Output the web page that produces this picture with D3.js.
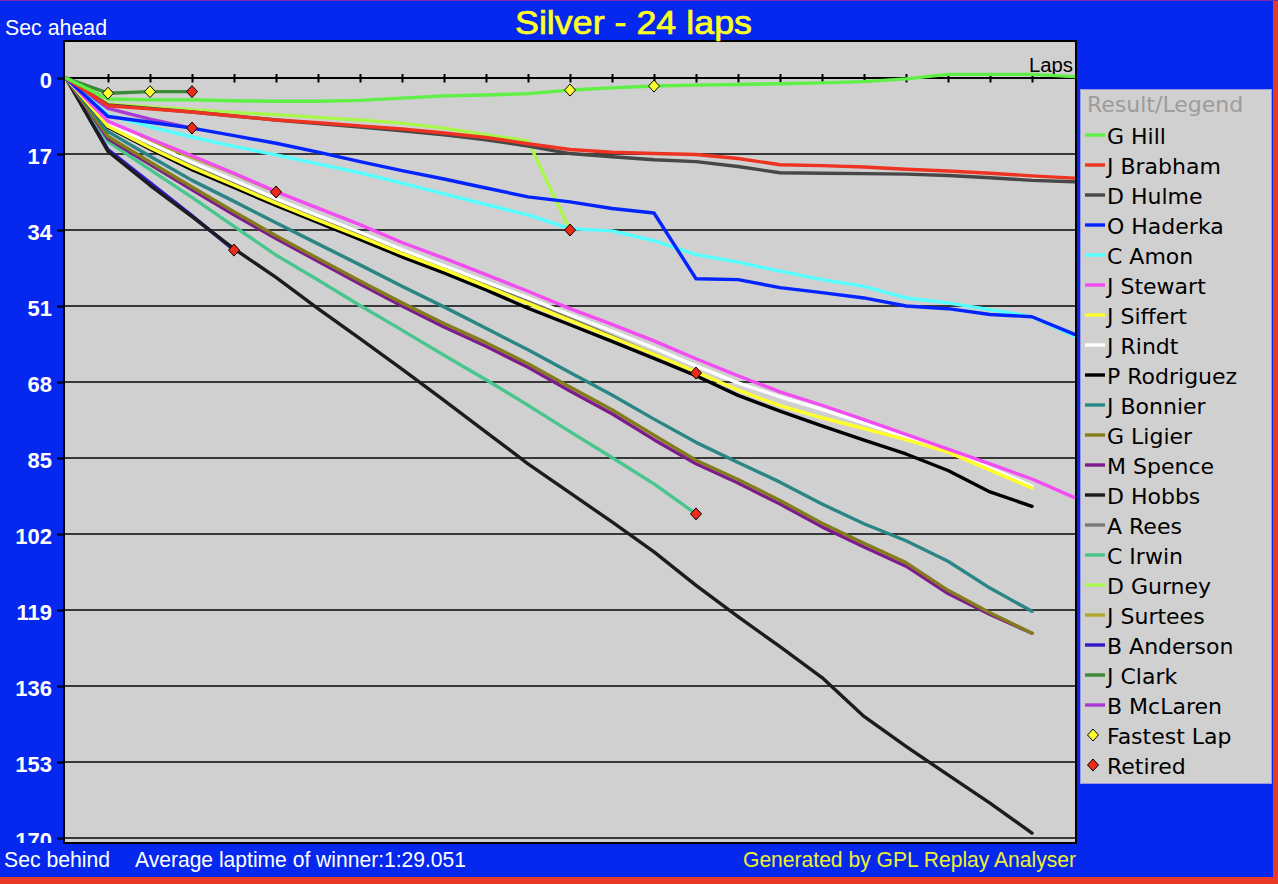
<!DOCTYPE html>
<html><head><meta charset="utf-8">
<script src="https://cdn.jsdelivr.net/npm/d3@7"></script>
<style>
html,body{margin:0;padding:0;background:#0628ee;overflow:hidden;}
svg{display:block;}
</style></head><body>
<svg id="chart" width="1278" height="884"></svg>
<script>
// ---------- data ----------
const lapDomain = [0, 24];
const lapTicks = d3.range(1, 24);
const yTicks = [0, 17, 34, 51, 68, 85, 102, 119, 136, 153, 170];

const drivers = ["G Hill","J Brabham","D Hulme","O Haderka","C Amon","J Stewart","J Siffert","J Rindt",
  "P Rodriguez","J Bonnier","G Ligier","M Spence","D Hobbs","A Rees","C Irwin","D Gurney","J Surtees",
  "B Anderson","J Clark","B McLaren"];

// seconds behind (positive = behind), one value per lap starting at lap 0
const gHill      = [0,4.7,4.9,4.9,5.1,5.2,5.2,5.0,4.5,4.0,3.8,3.5,2.7,2.2,1.8,1.6,1.45,1.3,1.1,0.8,0.2,-0.8,-0.8,-0.8,-0.3];
const jBrabham   = [0,6.2,6.9,7.6,8.5,9.4,10.0,10.7,11.4,12.3,13.3,14.7,16.0,16.6,16.9,17.1,18.0,19.4,19.6,19.9,20.4,20.8,21.3,21.9,22.4];
const dHulme     = [0,6.0,6.8,7.6,8.5,9.4,10.2,11.0,11.8,12.7,13.8,15.2,16.9,17.6,18.3,18.7,19.8,21.2,21.3,21.4,21.5,21.8,22.3,22.9,23.2];
const oHaderka   = [0,8.6,9.9,11.2,12.9,14.6,16.6,18.7,20.7,22.6,24.6,26.6,27.7,29.2,30.2,44.9,45.1,46.9,48.0,49.2,51.0,51.6,52.9,53.4,57.3];
const cAmon      = [0,8.3,10.9,13.2,15.3,17.2,19.2,21.2,23.5,25.9,28.3,30.6,33.7,34.2,36.4,39.5,41.2,43.2,45.1,46.6,49.2,50.3,51.8,53.4,57.7];
const jStewart   = [0,9.7,13.6,17.4,21.3,25.4,29.1,32.8,36.8,40.3,44.0,47.7,51.6,55.1,58.8,62.8,66.6,70.2,73.2,76.4,79.7,83.0,86.3,89.7,93.8];
const jSiffert   = [0,10.8,15.6,20.0,24.0,28.0,31.8,35.5,39.3,42.8,46.6,50.4,54.2,58.0,61.8,65.7,69.8,73.3,76.0,78.4,80.9,83.7,87.7,91.7];
const jRindt     = [0,10.2,14.6,18.9,22.9,27.0,30.8,34.5,38.4,42.0,45.6,49.2,53.0,56.6,60.4,64.4,68.2,71.3,74.1,77.2,80.3,83.3,87.2,91.3];
const pRodriguez = [0,11.0,15.9,20.5,24.5,28.5,32.3,36.1,40.0,43.6,47.4,51.5,55.2,58.9,62.7,66.6,71.0,74.5,77.8,81.0,84.1,87.8,92.6,95.8];
const jBonnier   = [0,12.0,17.5,22.9,27.6,32.4,37.1,41.8,46.6,51.2,56.0,60.8,65.9,70.9,76.3,81.5,86.0,90.4,95.3,99.7,103.5,108.1,114.1,119.3];
const gLigier    = [0,13.1,18.8,24.4,29.9,35.3,40.4,45.4,50.3,54.9,59.2,63.9,69.1,74.2,79.9,85.5,89.8,94.5,99.6,104.1,108.4,114.6,119.6,124.2];
const mSpence    = [0,13.6,19.3,25.0,30.6,35.9,41.0,46.1,51.0,55.7,60.0,64.7,70.0,75.1,80.9,86.3,90.6,95.3,100.4,104.9,109.2,115.3,120.0,124.2];
const dHobbs     = [0,16.4,24.0,31.0,38.2,44.6,51.6,58.3,65.1,72.1,79.2,86.3,92.8,99.3,106.0,113.5,120.5,127.2,134.1,142.8,149.5,155.9,162.2,168.9];
const aRees      = [0,10.3,14.9,19.4,23.4,27.4,31.2,35.0,38.9,42.5,46.2,50.0,53.8,57.8,61.8,66.0];
const cIrwin     = [0,14.2,20.5,26.7,33.2,39.6,45.2,50.9,56.4,62.0,67.5,73.2,79.1,84.9,90.8,97.5];
const dGurney    = [0,5.8,6.5,7.1,7.7,8.2,8.8,9.4,10.1,11.2,12.7,14.1,34.0];
const jSurtees   = [0,10.0,14.2,17.7,21.4,25.5];
const bAnderson  = [0,16.0,23.4,30.8,38.5];
const jClark     = [0,3.4,3.05,3.05];
const bMcLaren   = [0,6.8,9.2,11.2];

const seriesValues = [gHill,jBrabham,dHulme,oHaderka,cAmon,jStewart,jSiffert,jRindt,pRodriguez,jBonnier,
  gLigier,mSpence,dHobbs,aRees,cIrwin,dGurney,jSurtees,bAnderson,jClark,bMcLaren];

const fastestLaps = [{driver:"J Clark",lap:1},{driver:"J Clark",lap:2},{driver:"G Hill",lap:12},{driver:"G Hill",lap:14}];
const retiredDrivers = ["J Clark","B McLaren","B Anderson","J Surtees","D Gurney","A Rees","C Irwin"];

const titleText = "Silver - 24 laps";

// ---------- styles ----------
const palette = ["#5ef044","#ee3322","#474747","#0424ff","#55ffff","#f24cf2","#ffff2a","#ffffff",
  "#000000","#2a8686","#847c1c","#7c1c8c","#1c1c1c","#7a7a7a","#48c68e","#a8f84c","#b0a82e",
  "#3218c8","#3a8a3a","#a63ad2"];
const BLUE = "#0628ee", RED = "#e83a26", PLOT_BG = "#d0d0d0";
const SANS = "'Liberation Sans', Arial, sans-serif";
const LEG = "'DejaVu Sans', Verdana, sans-serif";

const W = 1278, H = 884;
const plot = {left: 64, right: 1076, top: 41, bottom: 843};
const svg = d3.select("#chart");

svg.append("rect").attr("width", W).attr("height", H).attr("fill", BLUE);
svg.append("rect").attr("x", 1273).attr("y", 0).attr("width", 5).attr("height", H).attr("fill", RED);
svg.append("rect").attr("x", 0).attr("y", 877).attr("width", W).attr("height", 7).attr("fill", RED);
svg.append("rect").attr("x", 0).attr("y", 0).attr("width", W).attr("height", 1).attr("fill", "#7a2aa8");

const x = d3.scaleLinear().domain(lapDomain).range([66, 1074]);
const y = d3.scaleLinear().domain([0, 170]).range([78, 838]);

svg.append("rect").attr("x", plot.left).attr("y", plot.top)
  .attr("width", plot.right - plot.left).attr("height", plot.bottom - plot.top)
  .attr("fill", PLOT_BG).attr("stroke", "#000").attr("stroke-width", 2);

const defs = svg.append("defs");
defs.append("clipPath").attr("id", "plotclip").append("rect")
  .attr("x", plot.left + 1).attr("y", plot.top + 1)
  .attr("width", plot.right - plot.left - 2).attr("height", plot.bottom - plot.top - 2);
defs.append("clipPath").attr("id", "labelclip").append("rect")
  .attr("x", -plot.left).attr("y", 0).attr("width", W).attr("height", plot.bottom);

// grid lines
svg.append("g").selectAll("line").data(yTicks).join("line")
  .attr("x1", plot.left + 1).attr("x2", plot.right - 1)
  .attr("y1", d => y(d)).attr("y2", d => y(d))
  .attr("stroke", d => d === 0 ? "#000" : "#383838").attr("stroke-width", 2);

// y axis
const gy = svg.append("g").attr("transform", `translate(${plot.left},0)`)
  .attr("clip-path", "url(#labelclip)")
  .call(d3.axisLeft(y).tickValues(yTicks).tickSize(7).tickPadding(5).tickFormat(d3.format("d")));
gy.select(".domain").remove();
gy.selectAll(".tick line").attr("stroke", "#000").attr("stroke-width", 2);
gy.selectAll(".tick text").attr("fill", "#fff").attr("font-family", SANS)
  .attr("font-weight", "bold").attr("font-size", 22).attr("dy", "0.45em");

// x ticks on zero line
const gx = svg.append("g").attr("transform", `translate(0,${y(0)})`)
  .call(d3.axisTop(x).tickValues(lapTicks).tickSize(4).tickFormat(""));
gx.select(".domain").remove();
gx.selectAll(".tick line").attr("y1", 4.5).attr("stroke", "#000").attr("stroke-width", 2);

svg.append("text").text("Laps").attr("x", 1029).attr("y", 72)
  .attr("font-family", SANS).attr("font-size", 20).attr("fill", "#000")
  .attr("textLength", 44).attr("lengthAdjust", "spacingAndGlyphs");

// lines
const line = d3.line().x((d, i) => x(i)).y(d => y(d));
const order = d3.range(drivers.length).reverse();
svg.append("g").attr("clip-path", "url(#plotclip)")
  .selectAll("path").data(order).join("path")
  .attr("d", i => line(seriesValues[i]))
  .attr("fill", "none").attr("stroke", i => palette[i])
  .attr("stroke-width", 3.4).attr("stroke-linejoin", "round").attr("stroke-linecap", "round");

// markers
const diamond = (cx, cy) => `M${cx},${cy - 6}L${cx + 5.5},${cy}L${cx},${cy + 6}L${cx - 5.5},${cy}Z`;
const retiredPts = retiredDrivers.map(n => {
  const v = seriesValues[drivers.indexOf(n)];
  return {lap: v.length - 1, val: v[v.length - 1]};
});
const fastPts = fastestLaps.map(f => ({lap: f.lap, val: seriesValues[drivers.indexOf(f.driver)][f.lap]}));
const mk = svg.append("g");
mk.selectAll("path.fast").data(fastPts).join("path").attr("class", "fast")
  .attr("d", d => diamond(x(d.lap), y(d.val)))
  .attr("fill", "#ffff30").attr("stroke", "#000").attr("stroke-width", 1);
mk.selectAll("path.ret").data(retiredPts).join("path").attr("class", "ret")
  .attr("d", d => diamond(x(d.lap), y(d.val)))
  .attr("fill", "#ee2a1a").attr("stroke", "#000").attr("stroke-width", 1);

// title
svg.append("text").text(titleText).attr("x", 633.5).attr("y", 34)
  .attr("text-anchor", "middle").attr("font-family", SANS).attr("font-size", 34)
  .attr("fill", "#ffff22").attr("stroke", "#ffff22").attr("stroke-width", 0.7)
  .attr("textLength", 237).attr("lengthAdjust", "spacingAndGlyphs");

// corner / footer labels
const small = (t, xx, yy, w, col) => svg.append("text").text(t).attr("x", xx).attr("y", yy)
  .attr("font-family", SANS).attr("font-size", 22).attr("fill", col)
  .attr("textLength", w).attr("lengthAdjust", "spacingAndGlyphs");
small("Sec ahead", 5, 35, 102, "#ffffff");
small("Sec behind", 4, 867, 106, "#ffffff");
small("Average laptime of winner:1:29.051", 135, 867, 331, "#ffffff");
small("Generated by GPL Replay Analyser", 743, 867, 333, "#eeee30");

// legend
const lg = svg.append("g");
lg.append("rect").attr("x", 1080.5).attr("y", 89.5).attr("width", 191).attr("height", 694)
  .attr("fill", PLOT_BG).attr("stroke", "#9a9ad8").attr("stroke-width", 1);
lg.append("text").text("Result/Legend").attr("x", 1087).attr("y", 112)
  .attr("font-family", LEG).attr("font-size", 22).attr("fill", "#9c9c9c");
const rowY = i => 135 + 30 * i;
const rows = lg.selectAll("g.row").data(drivers).join("g").attr("class", "row");
rows.append("line").attr("x1", 1085).attr("x2", 1105)
  .attr("y1", (d, i) => rowY(i)).attr("y2", (d, i) => rowY(i))
  .attr("stroke", (d, i) => palette[i]).attr("stroke-width", 3.4);
rows.append("text").text(d => d).attr("x", 1107).attr("y", (d, i) => rowY(i) + 8.5)
  .attr("font-family", LEG).attr("font-size", 22).attr("fill", "#000");
const extra = [{t: "Fastest Lap", c: "#ffff30"}, {t: "Retired", c: "#ee2a1a"}];
extra.forEach((e, k) => {
  const yy = rowY(drivers.length + k);
  lg.append("path").attr("d", diamond(1093, yy)).attr("fill", e.c).attr("stroke", "#000").attr("stroke-width", 1);
  lg.append("text").text(e.t).attr("x", 1107).attr("y", yy + 8.5)
    .attr("font-family", LEG).attr("font-size", 22).attr("fill", "#000");
});
</script>
</body></html>
